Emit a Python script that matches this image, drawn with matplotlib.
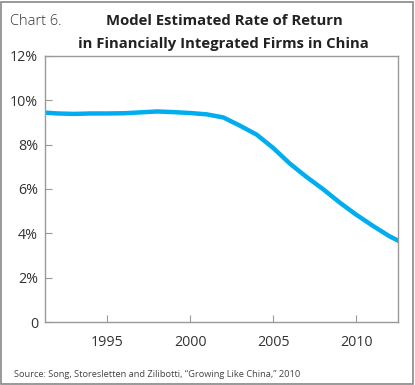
import matplotlib
matplotlib.use('Agg')
import matplotlib.pyplot as plt
from matplotlib.patches import Rectangle
from matplotlib.ticker import FuncFormatter

years = [1991, 1992, 1993, 1994, 1995, 1996, 1997, 1998, 1999, 2000, 2001,
         2002, 2003, 2004, 2005, 2006, 2007, 2008, 2009, 2010, 2011, 2012, 2013]
rate = [9.45, 9.40, 9.38, 9.40, 9.40, 9.41, 9.45, 9.49, 9.46, 9.42, 9.36,
        9.22, 8.85, 8.45, 7.85, 7.15, 6.55, 6.00, 5.40, 4.85, 4.35, 3.88, 3.50]
xticks = [1995, 2000, 2005, 2010]
yticks = [0, 2, 4, 6, 8, 10, 12]

plt.rcParams['font.family'] = ['Open Sans', 'DejaVu Sans']

W, H = 415, 385
fig = plt.figure(figsize=(W / 100, H / 100), dpi=100)
ax = fig.add_axes([45 / W, 1 - 322.3 / H, (398.3 - 45) / W, (322.3 - 55.7) / H])

ax.plot(years, rate, color='#00AEEF', lw=3.2, solid_capstyle='butt', clip_on=True)
ax.set_xlim(1991.24, 2012.55)
ax.set_ylim(0, 12)
ax.set_xticks(xticks)
ax.set_yticks(yticks)
ax.yaxis.set_major_formatter(FuncFormatter(lambda v, p: '0' if v == 0 else f'{v:.0f}%'))
ax.tick_params(direction='in', length=5, color='#999999', width=0.8,
               labelsize=10.3, labelcolor='#333333', pad=5)
ax.tick_params(axis='x', pad=9)
for s in ax.spines.values():
    s.set_color('#999999')
    s.set_linewidth(1.0)

fig.text(10 / W, 1 - 25 / H, 'Chart 6.', fontsize=10.5, color='#333333',
         fontweight='light', va='baseline', ha='left')
fig.text(224 / W, 1 - 25 / H, 'Model Estimated Rate of Return', fontsize=10.7,
         fontweight='bold', color='#222222', va='baseline', ha='center')
fig.text(223 / W, 1 - 48 / H, 'in Financially Integrated Firms in China', fontsize=10.7,
         fontweight='bold', color='#222222', va='baseline', ha='center')
fig.text(14 / W, 1 - 376.7 / H,
         'Source: Song, Storesletten and Zilibotti, \u201cGrowing Like China,\u201d 2010',
         fontsize=6.7, color='#444444', va='baseline', ha='left')

fig.patches.append(Rectangle((1 / W, 1.5 / H), (W - 3) / W, (H - 3.5) / H,
                             transform=fig.transFigure, fill=False,
                             edgecolor='#888888', lw=1.2))

fig.savefig('out.png', dpi=100)
